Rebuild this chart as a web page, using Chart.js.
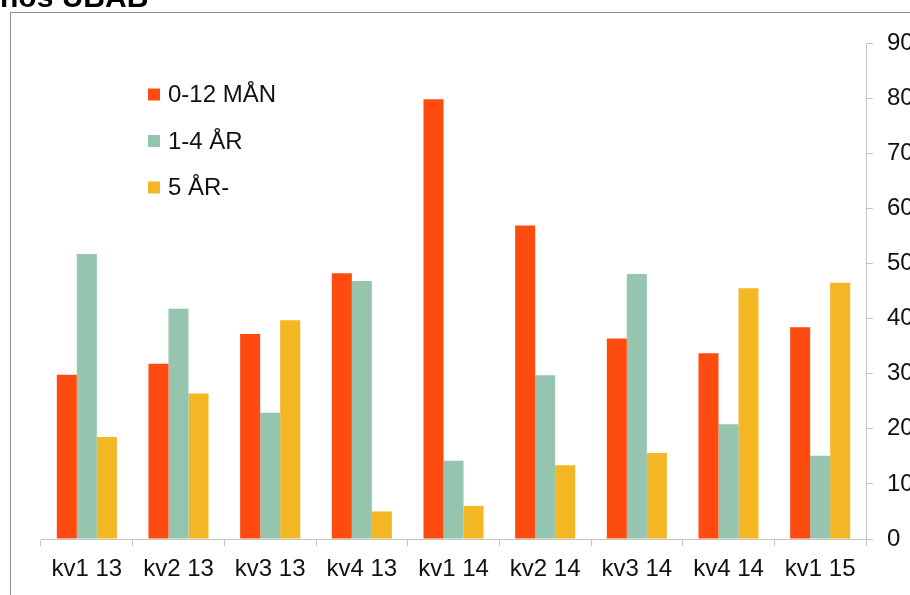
<!DOCTYPE html>
<html>
<head>
<meta charset="utf-8">
<script src="https://cdn.jsdelivr.net/npm/chart.js@4/dist/chart.umd.min.js"></script>
<style>
  html, body { margin: 0; padding: 0; background: #fff; }
  #wrap { position: relative; width: 910px; height: 595px; overflow: hidden; }
</style>
</head>
<body>
<div id="wrap"><canvas id="chart" width="910" height="595"></canvas></div>
<script>
// kvartal
const labels = ['kv1 13', 'kv2 13', 'kv3 13', 'kv4 13', 'kv1 14', 'kv2 14', 'kv3 14', 'kv4 14', 'kv1 15'];
const seriesNames = ['0-12 MÅN', '1-4 ÅR', '5 ÅR-'];
const manad012 = [29.8, 31.8, 37.2, 48.2, 79.8, 56.9, 36.4, 33.7, 38.4];
const ar14 = [51.7, 41.8, 22.9, 46.8, 14.2, 29.7, 48.1, 20.8, 15.1];
const ar5 = [18.5, 26.4, 39.7, 5.0, 6.0, 13.4, 15.6, 45.5, 46.5];
const yTicks = [0, 10, 20, 30, 40, 50, 60, 70, 80, 90];
const colors = ['#FE4C11', '#95C4AF', '#F3B723'];
const titleText = 'hos UBAB';

const FONT = '"Liberation Sans", Arial, sans-serif';

// ram + rubrik (rubriken är avklippt upptill)
const framePlugin = {
  id: 'frame',
  beforeDraw(chart) {
    const ctx = chart.ctx;
    ctx.save();
    ctx.fillStyle = '#fff';
    ctx.fillRect(0, 0, chart.width, chart.height);
    ctx.strokeStyle = '#8c8c8c';
    ctx.lineWidth = 1;
    ctx.strokeRect(10.5, 12.5, 1000, 1000);
    ctx.fillStyle = '#000';
    ctx.font = 'bold 30px ' + FONT;
    ctx.textBaseline = 'alphabetic';
    ctx.fillText(titleText, 0, 7);
    ctx.restore();
  }
};

// legend inne i diagramytan, vertikal
const legendPlugin = {
  id: 'innerLegend',
  afterDraw(chart) {
    const ctx = chart.ctx;
    ctx.save();
    ctx.font = '24px ' + FONT;
    ctx.textBaseline = 'middle';
    chart.data.datasets.forEach((ds, i) => {
      const y = 94.5 + i * 46.5;
      ctx.fillStyle = ds.backgroundColor;
      ctx.fillRect(148, y - 6, 12, 12);
      ctx.fillStyle = '#111';
      ctx.fillText(ds.label, 168, y + 1);
    });
    ctx.restore();
  }
};

new Chart(document.getElementById('chart'), {
  type: 'bar',
  data: {
    labels: labels,
    datasets: [
      { label: seriesNames[0], data: manad012, backgroundColor: colors[0] },
      { label: seriesNames[1], data: ar14, backgroundColor: colors[1] },
      { label: seriesNames[2], data: ar5, backgroundColor: colors[2] }
    ]
  },
  options: {
    responsive: false,
    animation: false,
    layout: { padding: { left: 41, right: 0, top: 43, bottom: 0 } },
    datasets: {
      bar: { categoryPercentage: 0.655, barPercentage: 1.0, borderWidth: 0 }
    },
    plugins: {
      legend: { display: false },
      title: { display: false },
      tooltip: { enabled: false }
    },
    scales: {
      x: {
        grid: { display: true, drawOnChartArea: false, offset: true, tickLength: 7, color: '#c4c4c4' },
        border: { color: '#c4c4c4', width: 1 },
        ticks: { color: '#111', font: { family: FONT, size: 24 }, padding: 9, maxRotation: 0, autoSkip: false },
        afterFit(scale) { scale.height = 56; }
      },
      y: {
        position: 'right',
        min: 0,
        max: 90,
        afterBuildTicks(scale) { scale.ticks = yTicks.map(v => ({ value: v })); },
        grid: { display: true, drawOnChartArea: false, tickLength: 7, color: '#c4c4c4' },
        border: { color: '#c4c4c4', width: 1 },
        ticks: { color: '#111', font: { family: FONT, size: 24 }, padding: 14 },
        afterFit(scale) { scale.width = 44; }
      }
    }
  },
  plugins: [framePlugin, legendPlugin]
});
</script>
</body>
</html>
